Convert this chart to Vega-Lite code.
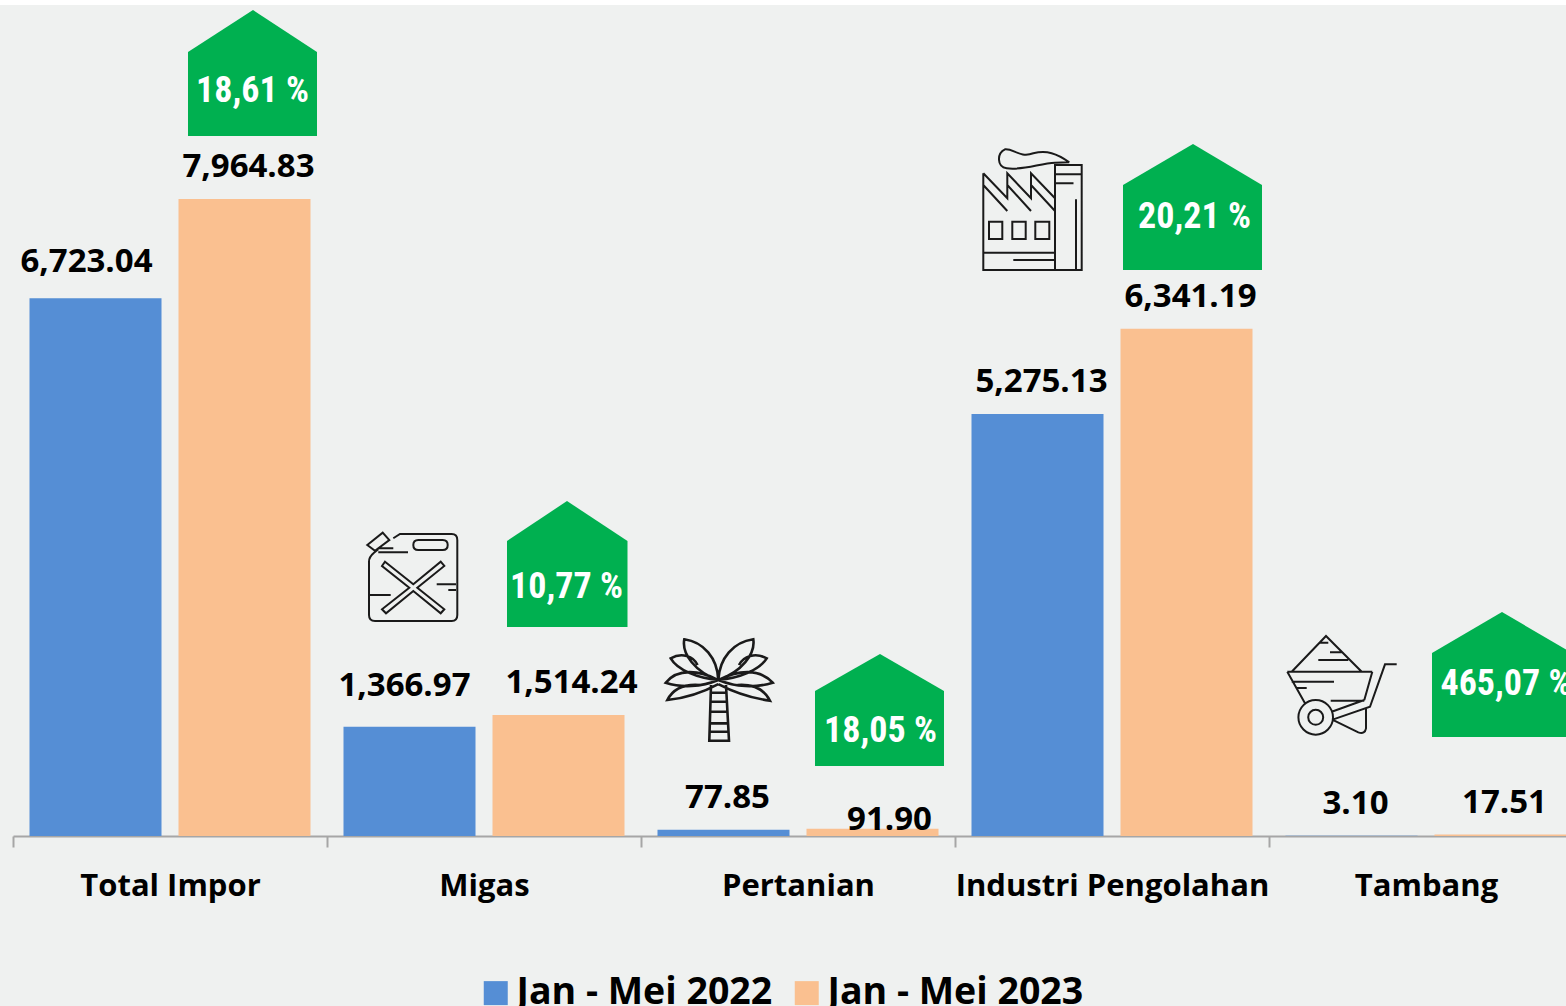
{
"$schema":"https://vega.github.io/schema/vega-lite/v6.json",
"autosize":{"type":"none"},
"padding":{"left":0,"top":5,"right":0,"bottom":0},
"width":1566,"height":1001,
"background":"#FFFFFF",
"view":{"fill":"#EFF1F0","stroke":null},
"config":{"axis":{"tickBand":"extent"}},
"datasets":{
"bars":[
{"category":"Total Impor","series":"Jan - Mei 2022","value":6723.04,"label":"6,723.04"},
{"category":"Total Impor","series":"Jan - Mei 2023","value":7964.83,"label":"7,964.83"},
{"category":"Migas","series":"Jan - Mei 2022","value":1366.97,"label":"1,366.97"},
{"category":"Migas","series":"Jan - Mei 2023","value":1514.24,"label":"1,514.24"},
{"category":"Pertanian","series":"Jan - Mei 2022","value":77.85,"label":"77.85"},
{"category":"Pertanian","series":"Jan - Mei 2023","value":91.90,"label":"91.90"},
{"category":"Industri Pengolahan","series":"Jan - Mei 2022","value":5275.13,"label":"5,275.13"},
{"category":"Industri Pengolahan","series":"Jan - Mei 2023","value":6341.19,"label":"6,341.19"},
{"category":"Tambang","series":"Jan - Mei 2022","value":3.10,"label":"3.10"},
{"category":"Tambang","series":"Jan - Mei 2023","value":17.51,"label":"17.51"}],
"badges":[
{"category":"Total Impor","series":"Jan - Mei 2023","change":"18,61 %","level":9315},
{"category":"Migas","series":"Jan - Mei 2023","change":"10,77 %","level":3113},
{"category":"Pertanian","series":"Jan - Mei 2023","change":"18,05 %","level":1313},
{"category":"Industri Pengolahan","series":"Jan - Mei 2023","change":"20,21 %","level":7739},
{"category":"Tambang","series":"Jan - Mei 2023","change":"465,07 %","level":1900}],
"icons":[
{"category":"Migas","series":"Jan - Mei 2022","icon":"jerrycan","level":3226},
{"category":"Pertanian","series":"Jan - Mei 2022","icon":"palm","level":1825},
{"category":"Industri Pengolahan","series":"Jan - Mei 2022","icon":"factory","level":7827},
{"category":"Tambang","series":"Jan - Mei 2022","icon":"wheelbarrow","level":1875}]
},
"data":{"name":"bars"},
"encoding":{
"x":{"field":"category","type":"nominal","sort":null,
 "scale":{"domain":["Total Impor","Migas","Pertanian","Industri Pengolahan","Tambang"],"range":[13,1583],"paddingInner":0,"paddingOuter":0},
 "axis":{"title":null,"offset":-170,"labelAngle":0,"labelFont":"Open Sans","labelFontWeight":"bold","labelFontSize":31,"labelColor":"#000000","labelPadding":24,"labelLimit":400,"labelOverlap":false,"labelFlush":false,"domainColor":"#A6A6A6","domainWidth":2,"tickColor":"#A6A6A6","tickWidth":2,"tickSize":11,"grid":false}},
"xOffset":{"field":"series","type":"nominal","scale":{"domain":["Jan - Mei 2022","Jan - Mei 2023"],"paddingInner":0.114,"paddingOuter":0.1107}},
"y":{"field":"value","type":"quantitative","scale":{"domain":[-2125.5,10390],"nice":false,"zero":false},"axis":null}
},
"layer":[
{"mark":{"type":"bar","clip":false},
 "encoding":{"color":{"field":"series","type":"nominal","scale":{"domain":["Jan - Mei 2022","Jan - Mei 2023"],"range":["#558ED5","#FAC090"]},
 "legend":{"title":null,"orient":"none","legendX":477,"legendY":969,"direction":"horizontal","columns":2,"symbolType":"square","symbolSize":576,"symbolStrokeWidth":0,"labelFont":"Open Sans","labelFontWeight":"bold","labelFontSize":37.5,"labelColor":"#000000","labelLimit":400,"labelOffset":2,"columnPadding":15,"padding":0}},
 "y":{"field":"value","type":"quantitative","stack":null}}},
{"transform":[{"filter":"datum.label!='6,723.04'&&datum.label!='1,366.97'&&datum.label!='1,514.24'&&datum.label!='91.90'"}],
 "mark":{"type":"text","font":"Open Sans","fontWeight":"bold","fontSize":33,"color":"#000000","baseline":"alphabetic","dx":4,"dy":-22},"encoding":{"text":{"field":"label"}}},
{"transform":[{"filter":"datum.label=='6,723.04'"}],
 "mark":{"type":"text","font":"Open Sans","fontWeight":"bold","fontSize":33,"color":"#000000","baseline":"alphabetic","dx":-9,"dy":-26},"encoding":{"text":{"field":"label"}}},
{"transform":[{"filter":"datum.label=='1,366.97'"}],
 "mark":{"type":"text","font":"Open Sans","fontWeight":"bold","fontSize":33,"color":"#000000","baseline":"alphabetic","dx":-5,"dy":-31},"encoding":{"text":{"field":"label"}}},
{"transform":[{"filter":"datum.label=='1,514.24'"}],
 "mark":{"type":"text","font":"Open Sans","fontWeight":"bold","fontSize":33,"color":"#000000","baseline":"alphabetic","dx":13,"dy":-22},"encoding":{"text":{"field":"label"}}},
{"transform":[{"filter":"datum.label=='91.90'"}],
 "mark":{"type":"text","font":"Open Sans","fontWeight":"bold","fontSize":33,"color":"#000000","baseline":"alphabetic","dx":17,"dy":1},"encoding":{"text":{"field":"label"}}},
{"data":{"name":"badges"},
 "mark":{"type":"point","filled":true,"size":4,"opacity":1,"color":"#00B050","strokeWidth":0,"clip":false},
 "encoding":{"y":{"field":"level","type":"quantitative"},
 "shape":{"field":"category","type":"nominal","legend":null,"scale":{"domain":["Total Impor","Migas","Pertanian","Industri Pengolahan","Tambang"],"range":[
 "M-56.5,45L-56.5,-39L8.5,-81L72.5,-39L72.5,45Z",
 "M-51.5,40L-51.5,-46L8.5,-86L69,-46L69,40Z",
 "M-57.5,35L-57.5,-40L7.5,-77L71.5,-40L71.5,35Z",
 "M-63.5,53L-63.5,-32L6.5,-73L75.5,-32L75.5,53Z",
 "M-68.5,53L-68.5,-31L1.5,-72L71.5,-31L71.5,53Z"]}}}},
{"data":{"name":"badges"},"transform":[{"filter":"datum.category!='Tambang'"}],
 "mark":{"type":"text","font":"Roboto Condensed, Roboto, sans-serif","fontWeight":"bold","fontSize":36,"color":"#FFFFFF","baseline":"middle","dx":8},
 "encoding":{"y":{"field":"level","type":"quantitative"},"text":{"field":"change"}}},
{"data":{"name":"badges"},"transform":[{"filter":"datum.category=='Tambang'"}],
 "mark":{"type":"text","font":"Roboto Condensed, Roboto, sans-serif","fontWeight":"bold","fontSize":36,"color":"#FFFFFF","baseline":"middle","dx":5.5},
 "encoding":{"y":{"field":"level","type":"quantitative"},"text":{"field":"change"}}},
{"data":{"name":"icons"},
 "mark":{"type":"point","filled":false,"size":4,"opacity":1,"stroke":"#1A1A1A","fill":null,"clip":false},
 "encoding":{"y":{"field":"level","type":"quantitative"},
 "strokeWidth":{"condition":{"test":"datum.icon=='palm'","value":2.6},"value":2},
 "shape":{"field":"icon","type":"nominal","legend":null,"scale":{"domain":["jerrycan","palm","factory","wheelbarrow"],"range":[
 "M-16.2,-39.7L-9.5,-44L42.2,-44Q47.8,-44 47.8,-38L47.8,37Q47.8,43 42.2,43L-34.5,43Q-40.5,43 -40.5,37L-40.5,-16.3Q-40.5,-21.3 -35.5,-25.3L-31.2,-28.7M-42.2,-33L-26.8,-45.3L-20.2,-38L-34.5,-27.3ZM-31.2,-29.7L-16.2,-29.7M-31.2,-25.7L-1.5,-25.7M8.8,-38L33.2,-38Q38.2,-38 38.2,-33Q38.2,-28 33.2,-28L8.8,-28Q3.8,-28 3.8,-33Q3.8,-38 8.8,-38ZM-24.5,-16.3L3.8,6.3L31.2,-16.3L34.8,-12L7.8,9.7L34.8,31.3L31.2,35.3L3.8,13L-23.5,35.3L-27.5,31.3L-0.2,9.7L-27.5,-12ZM27.2,6.3L46.5,6.3M38.8,12L46.5,12M-39.5,17L-18.8,17",
 "M-5.2,-10C-6,-32 -20,-48 -39.2,-50.7C-42,-36 -28,-18 -5.2,-10ZM-5.2,-10C-4,-32 10,-48 29.8,-50.7C32,-36 18,-18 -5.2,-10ZM-26,-25C-30,-34 -42,-38 -52.8,-31.7C-46,-20 -26,-12 -5.2,-10M15.5,-25C20,-34 32,-38 43.2,-31.7C36,-20 16,-12 -5.2,-10M-5.2,-10C-24,-20 -46,-22 -57.8,-7.3C-42,-2 -22,-3 -5.2,-10ZM-5.2,-10C14,-20 36,-22 49.2,-7.3C32,-2 12,-3 -5.2,-10ZM-24,-5C-38,-6 -50,-2 -56.2,10C-38,8 -20,2 -5.2,-6M14,-5C28,-6 40,-2 46.5,10.7C28,8 10,2 -5.2,-6M-12.5,-5L-14.2,50.7L5.5,50.7L2.5,-5M-13,2.7L3,2.7M-13.3,11.7L3.5,11.7M-13.6,21.7L4,21.7M-13.9,33.3L4.6,33.3M-14,41.7L5,41.7",
 "M-54.2,-36.7L-54.2,60L44.2,60L44.2,-45L17.5,-45L17.5,60M-54.2,-36.7L-30.2,-11.7L-30.2,-36.7L-6.5,-11.7L-6.5,-36.7L17.5,-11.7M-54.2,-25L-30.2,1M-30.2,-25L-6.5,1M-6.5,-25L17.5,1M-48.5,11.7L-35.2,11.7L-35.2,29L-48.5,29ZM-25.2,11.7L-11.8,11.7L-11.8,29L-25.2,29ZM-2.2,11.7L11.8,11.7L11.8,29L-2.2,29ZM-54.2,42.7L17.5,42.7M-24.2,50L17.5,50M17.5,-35.7L44.2,-35.7M17.5,-26.7L36,-26.7M38.5,-10.7L38.5,60M31.8,-47.7C19.2,-56.7 9.2,-60 -4.2,-56.7C-17.5,-51.7 -24.2,-61.7 -32.5,-60.7C-40.8,-56.7 -40.8,-43.3 -30.8,-41.7C-14.2,-39.3 2.5,-46.7 17.5,-47.3L31.8,-47.7",
 "M-59.8,-14.3L-25.5,-50L10.2,-14.3M-64.2,-14.3L20.8,-14.3M-64.2,-14.3L-46.5,17.3M20.8,-14.3L12.8,14M45.2,-21.7L33.5,-21.7L18.5,20.7L-18.2,33.3M-19.8,25.7L12.8,14M-31.5,-43.3L-23.2,-43.3M-21.5,-33.7L-9.8,-33.7M-33.2,-26L-3.2,-26M-59.8,-4.3L-17.5,-4.3M-55.5,2L-44.8,2M-20.8,14.7L12.8,14.7M-53.1,31.3A17.3,17.3 0 1 0 -18.5,31.3A17.3,17.3 0 1 0 -53.1,31.3ZM-43.3,31.3A7.5,7.5 0 1 0 -28.3,31.3A7.5,7.5 0 1 0 -43.3,31.3ZM-18.2,34L6.8,46.3Q13.5,48.5 14.5,42.3L14.5,22.3"]}}}}
],
"resolve":{"scale":{"shape":"independent"}}
}
